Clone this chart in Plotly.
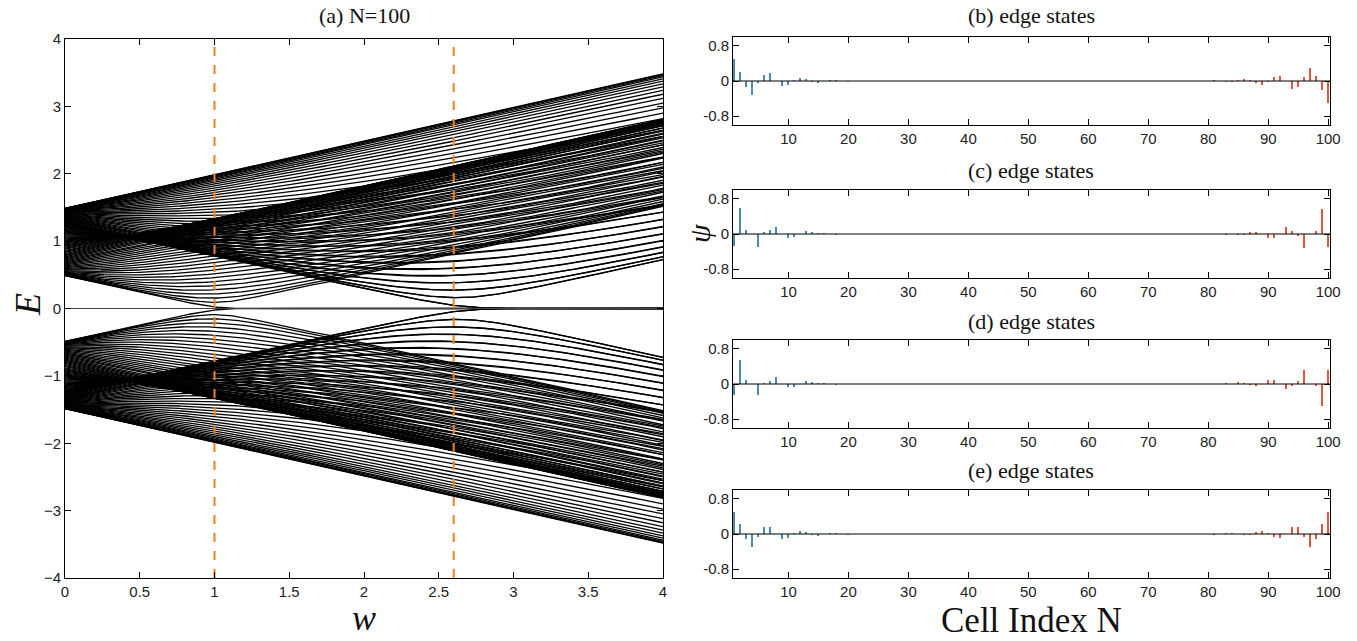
import numpy as np
import plotly.graph_objects as go

# ---------------- data ----------------
N_CELLS = 100
W_START, W_STOP, W_STEP = 0.0, 4.0, 0.02
# chiral chain: h(k) = HOP0 + HOP1*e^{ik} + HOP2*e^{2ik} + (W_SCALE*w)*e^{3ik}
HOP0, HOP1, HOP2, W_SCALE = 1.0, 0.5, -0.013, 0.5
DASHED_W = [1.0, 2.6]

A_XTICKS = [0, 0.5, 1, 1.5, 2, 2.5, 3, 3.5, 4]
A_XTICKTEXT = ["0", "0.5", "1", "1.5", "2", "2.5", "3", "3.5", "4"]
A_YTICKS = [-4, -3, -2, -1, 0, 1, 2, 3, 4]

CELLS = list(range(1, 101))
PSI_B_LEFT = [0.50, 0.21, -0.13, -0.31, -0.05, 0.13, 0.18, 0.00, -0.11, -0.08,
              0.01, 0.07, 0.03, -0.02, -0.03, 0.00, 0.02, 0.01, 0.00, -0.01]
PSI_B_RIGHT = [0.01, 0.00, -0.02, -0.02, 0.01, 0.04, 0.02, -0.04, -0.08, -0.02,
               0.08, 0.11, 0.00, -0.18, -0.13, 0.08, 0.30, 0.11, -0.21, -0.50]
PSI_C_LEFT = [-0.28, 0.58, 0.08, 0.00, -0.30, 0.04, 0.08, 0.16, 0.00, -0.08,
              -0.06, 0.00, 0.06, 0.03, 0.02, 0.01, 0.00, -0.01, 0.00, 0.00]
PSI_C_RIGHT = [0.00, 0.00, -0.01, 0.00, -0.02, -0.02, 0.03, 0.05, 0.00, -0.08,
               -0.08, 0.00, 0.15, 0.06, -0.04, -0.31, 0.00, 0.06, 0.56, -0.30]
PSI_D_LEFT = [-0.26, 0.54, 0.10, 0.00, -0.26, 0.02, 0.07, 0.17, 0.00, -0.07,
              -0.07, 0.00, 0.06, 0.03, 0.02, 0.01, 0.00, -0.01, 0.00, 0.00]
PSI_D_RIGHT = [0.00, 0.00, 0.01, 0.00, 0.03, 0.02, -0.02, -0.03, 0.00, 0.10,
               0.10, 0.00, -0.11, -0.05, 0.06, 0.31, 0.00, -0.05, -0.50, 0.31]
PSI_E_LEFT = [0.50, 0.22, -0.11, -0.30, -0.07, 0.15, 0.17, 0.00, -0.11, -0.08,
              0.01, 0.07, 0.03, -0.02, -0.03, 0.00, 0.02, 0.01, 0.00, -0.01]
PSI_E_RIGHT = [-0.01, 0.00, 0.01, 0.02, 0.00, -0.02, -0.02, 0.03, 0.07, 0.01,
               -0.07, -0.09, 0.00, 0.17, 0.15, -0.07, -0.30, -0.11, 0.22, 0.50]
MIDDLE_ZERO = [0.0] * 60

B_XTICKS = [10, 20, 30, 40, 50, 60, 70, 80, 90, 100]
B_YTICKS = [-0.8, 0, 0.8]
B_YTICKTEXT = ["-0.8", "0", "0.8"]

COLOR_LEFT = "#4d8ca8"
COLOR_RIGHT = "#d9583f"
COLOR_DASH = "#f0831e"

# ---------------- spectrum ----------------
w_grid = np.arange(W_START, W_STOP + W_STEP / 2, W_STEP)


def chain_spectrum(w):
    n = N_CELLS
    hops = {0: HOP0, 1: HOP1, 2: HOP2, 3: W_SCALE * w}
    H = np.zeros((2 * n, 2 * n))
    for c in range(n):
        a = 2 * c
        for d, t in hops.items():
            if 0 <= c + d < n:
                b = 2 * (c + d) + 1
                H[a, b] = H[b, a] = t
    return np.linalg.eigvalsh(H)


E = np.array([chain_spectrum(w) for w in w_grid])
spec_x, spec_y = [], []
for j in range(E.shape[1]):
    spec_x.extend(w_grid.tolist() + [None])
    spec_y.extend(E[:, j].tolist() + [None])

fig = go.Figure()
fig.add_trace(go.Scatter(x=spec_x, y=spec_y, mode="lines",
                         line=dict(color="black", width=1.3),
                         xaxis="x", yaxis="y", showlegend=False, hoverinfo="skip"))
fig.add_trace(go.Scatter(x=[W_START, W_STOP], y=[0, 0], mode="lines",
                         line=dict(color="#444444", width=1),
                         xaxis="x", yaxis="y", showlegend=False))
for wd in DASHED_W:
    fig.add_trace(go.Scatter(x=[wd, wd], y=[-4, 4], mode="lines",
                             line=dict(color=COLOR_DASH, width=2, dash="dash"),
                             xaxis="x", yaxis="y", showlegend=False))

# ---------------- edge states ----------------
panels = [
    (PSI_B_LEFT + MIDDLE_ZERO + PSI_B_RIGHT, "2"),
    (PSI_C_LEFT + MIDDLE_ZERO + PSI_C_RIGHT, "3"),
    (PSI_D_LEFT + MIDDLE_ZERO + PSI_D_RIGHT, "4"),
    (PSI_E_LEFT + MIDDLE_ZERO + PSI_E_RIGHT, "5"),
]
colors = [COLOR_LEFT if c <= 50 else COLOR_RIGHT for c in CELLS]
for vals, k in panels:
    fig.add_trace(go.Bar(x=CELLS, y=vals, marker=dict(color=colors, line=dict(width=0)),
                         width=0.32, xaxis="x" + k, yaxis="y" + k, showlegend=False))
    fig.add_trace(go.Scatter(x=[0.5, 100.5], y=[0, 0], mode="lines",
                             line=dict(color="black", width=1),
                             xaxis="x" + k, yaxis="y" + k, showlegend=False))

W, Hh = 1357, 641


def px_x(a, b):
    return [a / W, b / W]


def px_y(top, bottom):
    return [1 - bottom / Hh, 1 - top / Hh]


tick_font = dict(family="Liberation Sans, Arial, sans-serif", size=15, color="#222222")
axis_common = dict(showline=True, linecolor="black", linewidth=1, mirror="allticks",
                   ticks="inside", ticklen=6, tickcolor="black", showgrid=False,
                   zeroline=False, tickfont=tick_font)

layout = dict(
    width=W, height=Hh, margin=dict(l=0, r=0, t=0, b=0, autoexpand=False),
    paper_bgcolor="white", plot_bgcolor="white", bargap=0,
    xaxis=dict(domain=px_x(65, 663), range=[0, 4], tickvals=A_XTICKS,
               ticktext=A_XTICKTEXT, anchor="y", **axis_common),
    yaxis=dict(domain=px_y(39, 578), range=[-4, 4], tickvals=A_YTICKS,
               anchor="x", **axis_common),
)
rows = [(37, 125), (190, 278), (340, 428), (490, 578)]
for i, (top, bot) in enumerate(rows):
    k = str(i + 2)
    layout["xaxis" + k] = dict(domain=px_x(733, 1330), range=[0.75, 100.3],
                               tickvals=B_XTICKS, anchor="y" + k, **axis_common)
    layout["yaxis" + k] = dict(domain=px_y(top, bot), range=[-1, 1],
                               tickvals=B_YTICKS, ticktext=B_YTICKTEXT,
                               anchor="x" + k, **axis_common)
fig.update_layout(**layout)

serif = "Liberation Serif, DejaVu Serif, serif"
ann = [
    dict(text="(a) N=100", x=364, y=15, size=22),
    dict(text="(b) edge states", x=1031, y=15, size=22),
    dict(text="(c) edge states", x=1031, y=170, size=22),
    dict(text="(d) edge states", x=1031, y=321, size=22),
    dict(text="(e) edge states", x=1031, y=470, size=22),
    dict(text="Cell Index N", x=1031, y=620, size=35),
    dict(text="<i>w</i>", x=364, y=618, size=36),
]
for a in ann:
    fig.add_annotation(text=a["text"], x=a["x"] / W, y=1 - a["y"] / Hh,
                       xref="paper", yref="paper", showarrow=False,
                       xanchor="center", yanchor="middle",
                       font=dict(family=serif, size=a["size"], color="#111111"))
fig.add_annotation(text="<i>E</i>", x=28 / W, y=1 - 305 / Hh, xref="paper", yref="paper",
                   showarrow=False, textangle=-90, xanchor="center", yanchor="middle",
                   font=dict(family=serif, size=36, color="#111111"))
fig.add_annotation(text="<i>ψ</i>", x=700 / W, y=1 - 233 / Hh, xref="paper", yref="paper",
                   showarrow=False, textangle=-90, xanchor="center", yanchor="middle",
                   font=dict(family=serif, size=30, color="#111111"))

fig.write_html("out.html", config={"displayModeBar": False},
               post_script="document.body.style.margin='0';document.body.style.overflow='hidden';")
